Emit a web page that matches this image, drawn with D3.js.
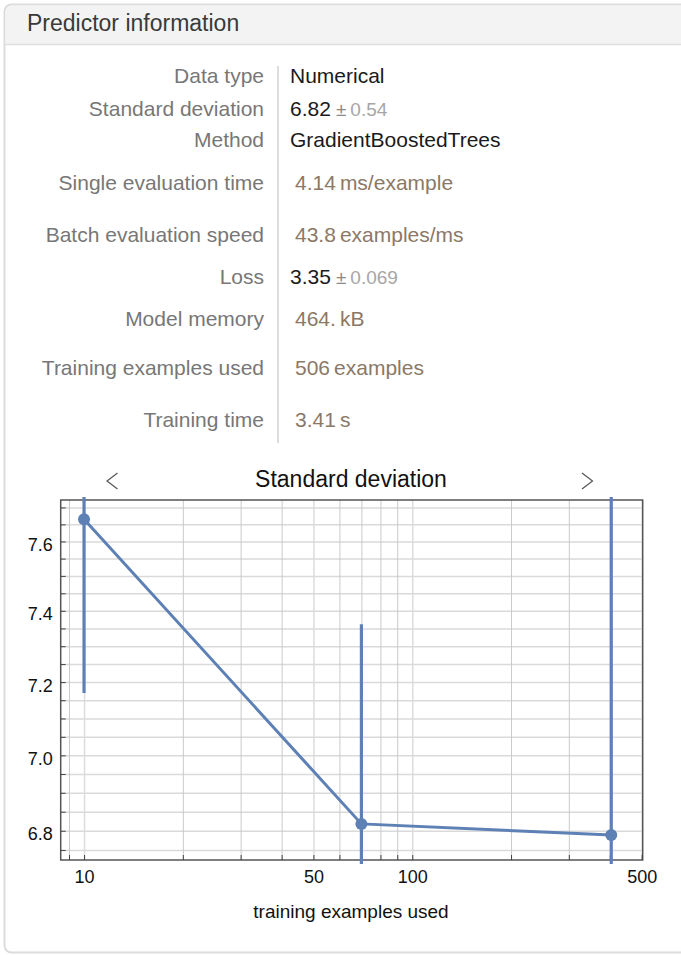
<!DOCTYPE html>
<html>
<head>
  <meta charset="utf-8">
  <script src="https://cdn.jsdelivr.net/npm/d3@7"></script>
  <style type="text/css">
    body { margin: 0; background: #fff; }
    svg { display: block; font-family: "Liberation Sans", Arial, Helvetica, sans-serif; }
  </style>
</head>
<body>
  <script type="text/javascript">
    // predictor info table
    const infoLabels = ['Data type', 'Standard deviation', 'Method', 'Single evaluation time',
      'Batch evaluation speed', 'Loss', 'Model memory', 'Training examples used', 'Training time'];
    const infoValues = ['Numerical', '6.82', 'GradientBoostedTrees', '4.14', '43.8', '3.35', '464.', '506', '3.41'];
    const infoErrors = ['', '0.54', '', '', '', '0.069', '', '', ''];
    const infoUnits = ['', '', '', 'ms/example', 'examples/ms', '', 'kB', 'examples', 's'];

    // learning curve
    const sampleSizes = [10, 70, 404];
    const stdDev = [7.665, 6.818, 6.789];
    const stdDevErr = [0.495, 0.544, 1.1];
    const yTickValues = [6.8, 7.0, 7.2, 7.4, 7.6];
    const xTickLabels = [10, 50, 100, 500];

    const width = 681;
    const height = 955;
    const rowY = [75.5, 108, 139.5, 182, 234, 276.5, 318, 367, 419];

    const svg = d3.select('body').append('svg')
      .attr('width', width)
      .attr('height', height);

    // panel
    svg.append('rect')
      .attr('x', 4.5).attr('y', 4.5)
      .attr('width', 720).attr('height', 948)
      .attr('rx', 7)
      .attr('fill', '#fff')
      .attr('stroke', '#dcdcdc')
      .attr('stroke-width', 2);
    svg.append('path')
      .attr('d', 'M5.5,44 V12 Q5.5,5.5 12,5.5 H681 V44 Z')
      .attr('fill', '#f3f3f3');
    svg.append('line')
      .attr('x1', 5).attr('x2', width).attr('y1', 44.5).attr('y2', 44.5)
      .attr('stroke', '#e0e0e0').attr('stroke-width', 1.5);
    svg.append('text')
      .attr('x', 27).attr('y', 31)
      .attr('font-size', 23)
      .attr('fill', '#3a3a3a')
      .text('Predictor information');

    // table
    svg.append('line')
      .attr('x1', 278).attr('x2', 278).attr('y1', 66).attr('y2', 443)
      .attr('stroke', '#d2d2d2').attr('stroke-width', 1.5);

    const rows = svg.append('g').selectAll('g').data(infoLabels).join('g')
      .attr('transform', (d, i) => `translate(0, ${rowY[i] + 7.5})`);

    rows.append('text')
      .attr('x', 264)
      .attr('text-anchor', 'end')
      .attr('font-size', 21)
      .attr('fill', '#777')
      .text(d => d);

    rows.each(function(d, i) {
      const brown = infoUnits[i] !== '' || infoValues[i] === '3.41';
      const t = d3.select(this).append('text')
        .attr('x', brown ? 295 : 290)
        .attr('font-size', 21);
      t.append('tspan')
        .attr('fill', brown ? '#8c7866' : '#1a1a1a')
        .text(infoValues[i]);
      if (infoErrors[i]) {
        t.append('tspan').attr('dx', 5).attr('font-size', 19).attr('fill', '#8a8a8a').text('±');
        t.append('tspan').attr('dx', 4).attr('font-size', 19).attr('fill', '#a6a6a6').text(infoErrors[i]);
      }
      if (infoUnits[i]) {
        t.append('tspan').attr('dx', 4).attr('fill', '#8c7866').text(infoUnits[i]);
      }
    });

    // chart
    const pLeft = 60.7, pRight = 642.7, pTop = 500, pBottom = 860;
    const x = d3.scaleLog().domain([8.49, 503.7]).range([pLeft, pRight]);
    const y = d3.scaleLog().domain([6.724, 7.722]).range([pBottom, pTop]);

    const xMinor = [9, 10, 20, 30, 40, 50, 60, 70, 80, 90, 100, 200, 300, 400, 500];
    const yMinor = d3.range(6.75, 7.7001, 0.05).map(v => +v.toFixed(2));

    svg.append('text')
      .attr('x', 351).attr('y', 487)
      .attr('text-anchor', 'middle')
      .attr('font-size', 23)
      .attr('fill', '#111')
      .text('Standard deviation');

    svg.append('path')
      .attr('d', 'M117.5,473 L107,481 L117.5,489')
      .attr('fill', 'none').attr('stroke', '#555').attr('stroke-width', 1.2);
    svg.append('path')
      .attr('d', 'M582,473 L592.5,481 L582,489')
      .attr('fill', 'none').attr('stroke', '#555').attr('stroke-width', 1.2);

    // grid
    svg.append('g')
      .attr('transform', `translate(${pLeft},0)`)
      .call(d3.axisLeft(y).tickValues(yMinor).tickSize(-(pRight - pLeft)).tickFormat(''))
      .call(g => g.select('.domain').remove())
      .call(g => g.selectAll('line').attr('stroke', '#dadada').attr('stroke-width', 1.5));

    svg.append('g')
      .attr('transform', `translate(0,${pBottom})`)
      .call(d3.axisBottom(x).tickValues(xMinor).tickSize(-(pBottom - pTop)).tickFormat(''))
      .call(g => g.select('.domain').remove())
      .call(g => g.selectAll('line')
        .attr('stroke', d => xTickLabels.includes(d) ? '#dcdcdc' : '#cacaca')
        .attr('stroke-width', d => xTickLabels.includes(d) ? 1.5 : 1));

    // frame
    svg.append('rect')
      .attr('x', pLeft).attr('y', pTop)
      .attr('width', pRight - pLeft).attr('height', pBottom - pTop)
      .attr('fill', 'none')
      .attr('stroke', '#555')
      .attr('stroke-width', 1.5);

    // axes
    svg.append('g')
      .attr('transform', `translate(${pLeft},0)`)
      .call(d3.axisLeft(y).tickValues(yMinor).tickSizeInner(-5).tickSizeOuter(0).tickPadding(8)
        .tickFormat(d => yTickValues.some(v => Math.abs(v - d) < 1e-6) ? d3.format('.1f')(d) : ''))
      .call(g => g.select('.domain').remove())
      .call(g => g.selectAll('line').attr('stroke', '#444'))
      .call(g => g.selectAll('text').attr('font-size', 18).attr('fill', '#111').attr('dy', '0.5em')
        .attr('font-family', null));

    svg.append('g')
      .attr('transform', `translate(0,${pBottom})`)
      .call(d3.axisBottom(x).tickValues(xMinor).tickSizeInner(-5).tickSizeOuter(0).tickPadding(10)
        .tickFormat(d => xTickLabels.includes(d) ? d : ''))
      .call(g => g.select('.domain').remove())
      .call(g => g.selectAll('line').attr('stroke', '#444'))
      .call(g => g.selectAll('text').attr('font-size', 18).attr('fill', '#111')
        .attr('font-family', null));

    svg.append('text')
      .attr('x', 351).attr('y', 918)
      .attr('text-anchor', 'middle')
      .attr('font-size', 19)
      .attr('fill', '#111')
      .text('training examples used');

    // data
    svg.append('clipPath').attr('id', 'plot-clip')
      .append('rect')
      .attr('x', pLeft - 2).attr('y', pTop - 3)
      .attr('width', pRight - pLeft + 4).attr('height', pBottom - pTop + 7);

    const color = '#5e81b5';
    const pts = sampleSizes.map((n, i) => ({ n, s: stdDev[i], e: stdDevErr[i] }));
    const plot = svg.append('g').attr('clip-path', 'url(#plot-clip)');

    plot.selectAll('.err').data(pts).join('line')
      .attr('class', 'err')
      .attr('x1', d => x(d.n)).attr('x2', d => x(d.n))
      .attr('y1', d => y(d.s + d.e)).attr('y2', d => y(Math.max(d.s - d.e, 6.0)))
      .attr('stroke', color).attr('stroke-width', 3.2);

    plot.append('path')
      .datum(pts)
      .attr('d', d3.line().x(d => x(d.n)).y(d => y(d.s)))
      .attr('fill', 'none')
      .attr('stroke', color)
      .attr('stroke-width', 3);

    plot.selectAll('.pt').data(pts).join('circle')
      .attr('class', 'pt')
      .attr('cx', d => x(d.n)).attr('cy', d => y(d.s))
      .attr('r', 6)
      .attr('fill', color);
  </script>
</body>
</html>
